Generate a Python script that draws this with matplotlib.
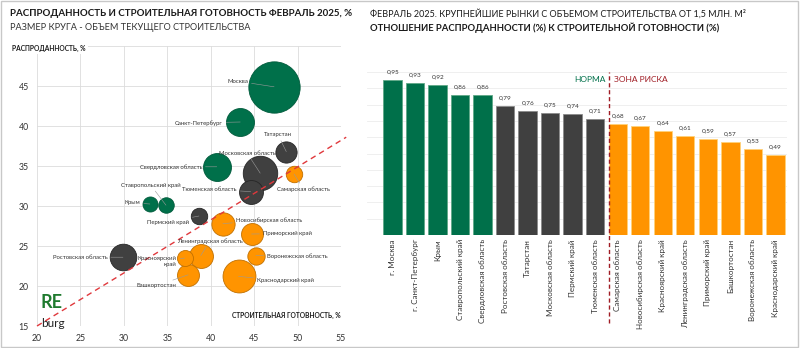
import matplotlib as mpl
mpl.use('Agg')
import matplotlib.pyplot as plt
from matplotlib.patches import Rectangle
import numpy as np

plt.rcParams['font.family'] = ['Lato', 'DejaVu Sans']

GREEN = '#00704a'
GRAY = '#404040'
ORANGE = '#ff9400'
DARKRED = '#a01c24'

# --- левый график: распроданность vs строительная готовность ---
regions = ['Москва', 'Санкт-Петербург', 'Татарстан', 'Московская область',
           'Свердловская область', 'Самарская область', 'Тюменская область',
           'Ставропольский край', 'Крым', 'Пермский край', 'Ростовская область',
           'Красноярский\nкрай', 'Башкортостан', 'Ленинградская область',
           'Новосибирская область', 'Приморский край', 'Воронежская область',
           'Краснодарский край']
readiness = [47.3, 43.4, 48.7, 45.7, 40.7, 49.6, 44.6, 34.85, 33.0, 38.65,
             29.9, 37.0, 37.4, 38.85, 41.4, 44.7, 45.2, 43.2]
sold = [44.9, 40.5, 36.8, 34.1, 34.9, 34.0, 31.8, 30.1, 30.25, 28.75,
        23.6, 23.5, 21.4, 23.8, 27.8, 26.5, 23.8, 21.2]
volume = [17.5, 5.2, 3.0, 7.9, 5.2, 1.8, 3.8, 1.6, 1.5, 1.8,
          4.7, 1.7, 3.2, 3.8, 3.6, 3.2, 2.0, 7.2]
zone = ['g', 'g', 'k', 'k', 'g', 'o', 'k', 'g', 'g', 'k',
        'k', 'o', 'o', 'o', 'o', 'o', 'o', 'o']

trend_x = [20, 55.6]
trend_y = [15, 38.6]

# --- правый график: отношение ---
bar_names = ['г. Москва', 'г. Санкт-Петербург', 'Крым', 'Ставропольский край',
             'Свердловская область', 'Ростовская область', 'Татарстан',
             'Московская область', 'Пермский край', 'Тюменская область',
             'Самарская область', 'Новосибирская область', 'Красноярский край',
             'Ленинградская область', 'Приморский край', 'Башкортостан',
             'Воронежская область', 'Краснодарский край']
ratio = [0.95, 0.93, 0.92, 0.86, 0.86, 0.79, 0.76, 0.75, 0.74, 0.71,
         0.68, 0.67, 0.64, 0.61, 0.59, 0.57, 0.53, 0.49]
bar_zone = ['g'] * 5 + ['k'] * 5 + ['o'] * 8

face = {'g': GREEN, 'k': GRAY, 'o': ORANGE}
edge = {'g': '#005a3b', 'k': '#262626', 'o': '#c07000'}
bar_edge = {'g': '#5fa887', 'k': '#8a8a8a', 'o': '#ffd27a'}

# подписи пузырей: (x, y, ha)
lbl_pos = {
    'Москва': (44.3, 45.6, 'right'),
    'Санкт-Петербург': (41.4, 40.4, 'right'),
    'Татарстан': (47.75, 38.9, 'center'),
    'Московская область': (44.2, 36.6, 'center'),
    'Свердловская область': (39.0, 34.9, 'right'),
    'Самарская область': (47.6, 32.1, 'left'),
    'Тюменская область': (43.0, 32.1, 'right'),
    'Ставропольский край': (33.1, 32.6, 'center'),
    'Крым': (31.9, 30.4, 'right'),
    'Пермский край': (37.5, 28.0, 'right'),
    'Ростовская область': (28.1, 23.6, 'right'),
    'Красноярский\nкрай': (36.1, 23.1, 'right'),
    'Башкортостан': (36.1, 20.05, 'right'),
    'Ленинградская область': (39.9, 25.6, 'center'),
    'Новосибирская область': (42.9, 28.25, 'left'),
    'Приморский край': (46.0, 26.55, 'left'),
    'Воронежская область': (46.5, 23.7, 'left'),
    'Краснодарский край': (45.3, 20.65, 'left'),
}

fig = plt.figure(figsize=(8, 3.48), dpi=100)

ax = fig.add_axes([0.04625, 0.0632, 0.38, 0.8046])
ax.set_xlim(20, 55)
ax.set_ylim(15, 50)
ax.set_xticks(np.arange(20, 56, 5))
ax.set_yticks(np.arange(15, 51, 5))
ax.set_yticklabels([str(v) for v in range(15, 50, 5)] + [''])
ax.grid(True, color='#dcdcdc', lw=0.6)
ax.set_axisbelow(True)
for s in ax.spines.values():
    s.set_visible(False)
ax.tick_params(length=0, labelsize=6.3, colors='#333333', pad=6)

order = np.argsort(volume)[::-1]
for i in order:
    ax.scatter(readiness[i], sold[i], s=volume[i] * 78, color=face[zone[i]],
               edgecolors=edge[zone[i]], linewidths=0.6, zorder=2)

for i, name in enumerate(regions):
    lx, ly, ha = lbl_pos[name]
    ax.annotate(name, xy=(readiness[i], sold[i]), xytext=(lx, ly), ha=ha,
                va='center', fontsize=4.3, color='#333333', multialignment='right',
                linespacing=1.3, zorder=4,
                arrowprops=dict(arrowstyle='-', color='#9a9a9a', lw=0.4,
                                shrinkA=0.5, shrinkB=0))

ax.plot(trend_x, trend_y, ls=(0, (4, 3)), color='#e0383c', lw=1.0,
        zorder=3, clip_on=False)

ax.text(-0.082, 0.993, 'РАСПРОДАННОСТЬ, %', transform=ax.transAxes,
        fontsize=4.8, fontweight='bold', color='#1a1a1a', va='center',
        bbox=dict(facecolor='white', edgecolor='none', pad=1.5))
ax.text(1.0, 0.025, 'СТРОИТЕЛЬНАЯ ГОТОВНОСТЬ, %', transform=ax.transAxes,
        fontsize=4.8, fontweight='bold', color='#1a1a1a', ha='right', va='bottom')

ax.text(0.012, 0.052, 'RE', transform=ax.transAxes, fontsize=13,
        fontweight='bold', color='#1e7a2e', va='bottom')
ax.text(0.014, -0.012, 'burg', transform=ax.transAxes, fontsize=8.5,
        color='#222222', va='bottom')

fig.text(0.0125, 0.96, 'РАСПРОДАННОСТЬ И СТРОИТЕЛЬНАЯ ГОТОВНОСТЬ ФЕВРАЛЬ 2025, %',
         fontsize=7, fontweight='bold', color='#1a1a1a', va='center')
fig.text(0.0125, 0.922, 'РАЗМЕР КРУГА - ОБЪЕМ ТЕКУЩЕГО СТРОИТЕЛЬСТВА',
         fontsize=6.6, color='#333333', va='center')

# правый график
ax2 = fig.add_axes([0.45875, 0.3247, 0.525, 0.4684])
xpos = np.arange(len(bar_names))
ax2.bar(xpos, ratio, width=0.82, color=[face[z] for z in bar_zone],
        edgecolor=[bar_edge[z] for z in bar_zone], linewidth=0.6, zorder=2)
for x, v in zip(xpos, ratio):
    ax2.text(x, v + 0.035, f'{v:.2f}'.replace('.', ','), ha='center',
             va='bottom', fontsize=4.6, color='#333333')
ax2.set_xlim(-1.14, 17.52)
ax2.set_ylim(0, 1.0)
ax2.set_yticks(np.arange(0.1, 1.01, 0.1))
ax2.set_yticklabels([])
ax2.grid(True, axis='y', color='#ececec', lw=0.6)
ax2.set_axisbelow(True)
for s in ax2.spines.values():
    s.set_visible(False)
ax2.set_xticks(xpos)
ax2.set_xticklabels(bar_names, rotation=90, fontsize=5.8, color='#333333')
ax2.tick_params(length=0, pad=3)

ax2.plot([9.6, 9.6], [-0.54, 1.0], ls=(0, (3, 2)), color=DARKRED, lw=1.0,
         clip_on=False, zorder=3)
ax2.text(9.45, 0.955, 'НОРМА', ha='right', va='center', fontsize=6,
         color=GREEN)
ax2.text(9.85, 0.955, 'ЗОНА РИСКА', ha='left', va='center', fontsize=6,
         color=DARKRED)

fig.text(0.4625, 0.96,
         'ФЕВРАЛЬ 2025. КРУПНЕЙШИЕ РЫНКИ С ОБЪЕМОМ СТРОИТЕЛЬСТВА ОТ 1,5 МЛН. М²',
         fontsize=6.45, color='#1a1a1a', va='center')
fig.text(0.4625, 0.92,
         'ОТНОШЕНИЕ РАСПРОДАННОСТИ (%) К СТРОИТЕЛЬНОЙ ГОТОВНОСТИ (%)',
         fontsize=6.8, fontweight='bold', color='#1a1a1a', va='center')

fig.patches.append(Rectangle((0.001, 0.003), 0.996, 0.994, transform=fig.transFigure,
                             fill=False, edgecolor='#c8c8c8', lw=1))

plt.savefig('out.png', dpi=100)
plt.close()
